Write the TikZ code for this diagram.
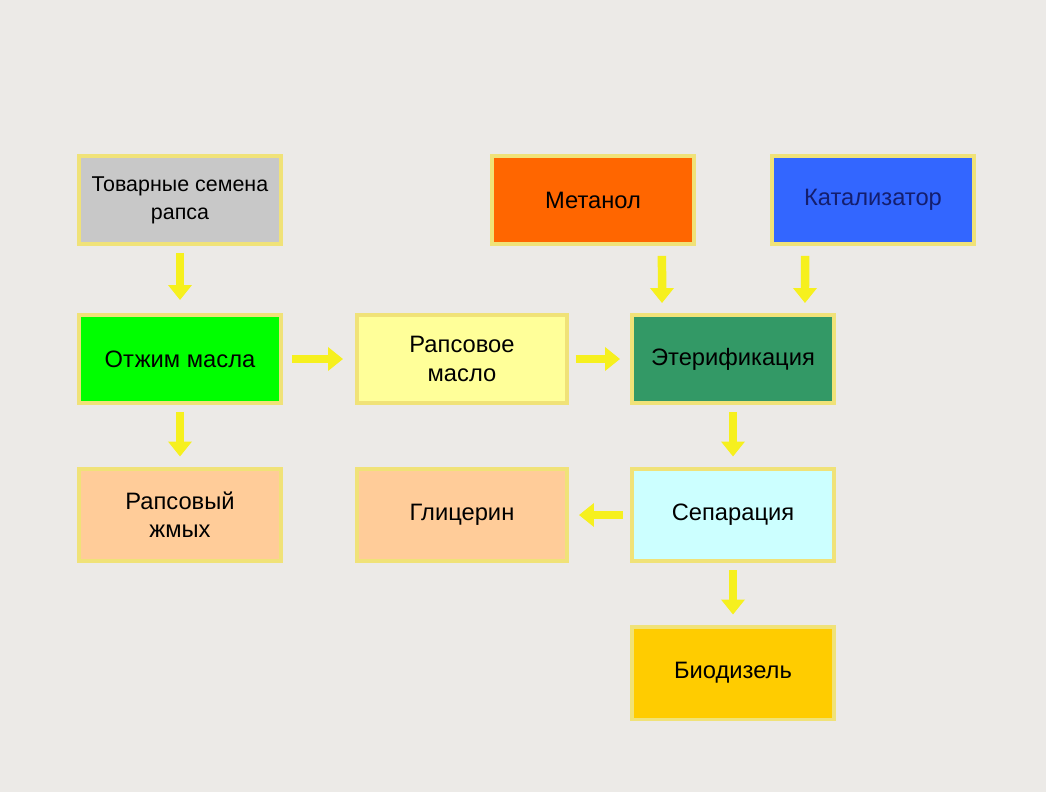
\documentclass[tikz,border=0pt]{standalone}
\usepackage{fontspec}
\setmainfont{Liberation Sans}
\usetikzlibrary{arrows.meta}
\definecolor{bg-gray}{RGB}{236,234,231}
\definecolor{box-edge}{RGB}{240,226,120}
\definecolor{arr-yellow}{RGB}{246,240,30}
\definecolor{seed-gray}{RGB}{200,200,200}
\definecolor{my-orange}{RGB}{255,102,0}
\definecolor{my-blue}{RGB}{51,102,255}
\definecolor{my-green}{RGB}{0,255,0}
\definecolor{oil-yellow}{RGB}{255,255,153}
\definecolor{sea-green}{RGB}{51,153,102}
\definecolor{my-peach}{RGB}{255,204,153}
\definecolor{my-cyan}{RGB}{204,255,255}
\definecolor{my-gold}{RGB}{255,204,0}
\begin{document}
\begin{tikzpicture}[x=0.02cm, y=-0.02cm,
    box/.style={draw=box-edge, line width=0.08cm, minimum width=4.04cm, minimum height=1.76cm,
      align=center, font=\fontsize{13.5}{16}\selectfont, inner sep=2pt},
    flow/.style={draw=arr-yellow, line width=0.17cm,
      -{Triangle[width=0.46cm,length=0.3cm,fill=arr-yellow]}}]
  \fill[bg-gray] (0,0) rectangle (1046,792);
  \useasboundingbox (0,0) rectangle (1046,792);
  % top row
  \node[box, fill=seed-gray, font=\fontsize{12.2}{16}\selectfont] (seeds) at (180,200) {Товарные семена\\рапса};
  \node[box, fill=my-orange] (methanol) at (593,200) {Метанол};
  \node[box, fill=my-blue, text={rgb,255:red,20;green,30;blue,110}] (catalyst) at (873,200) {Катализатор};
  % middle row
  \node[box, fill=my-green] (press) at (180,359) {Отжим масла};
  \node[box, fill=oil-yellow, minimum width=4.2cm] (oil) at (462,359) {Рапсовое\\масло};
  \node[box, fill=sea-green] (ester) at (733,359) {Этерификация};
  % bottom rows
  \node[box, fill=my-peach, minimum height=1.86cm] (cake) at (180,515) {Рапсовый\\жмых};
  \node[box, fill=my-peach, minimum width=4.2cm, minimum height=1.86cm] (glycerin) at (462,515) {Глицерин};
  \node[box, fill=my-cyan, minimum height=1.86cm] (separ) at (733,515) {Сепарация};
  \node[box, fill=my-gold, minimum height=1.86cm] (diesel) at (733,673) {Биодизель};
  % connectors
  \draw[flow, shorten <=0.14cm, shorten >=0.26cm] (seeds) -- (press);
  \draw[flow, shorten <=0.18cm, shorten >=0.24cm] (press) -- (oil);
  \draw[flow, shorten <=0.14cm, shorten >=0.2cm] (oil) -- (ester);
  \draw[flow, shorten <=0.2cm, shorten >=0.2cm] ([xshift=1.38cm]methanol.south) -- ([xshift=-1.42cm]ester.north);
  \draw[flow, shorten <=0.2cm, shorten >=0.2cm] ([xshift=-1.36cm]catalyst.south) -- ([xshift=1.44cm]ester.north);
  \draw[flow, shorten <=0.14cm, shorten >=0.2cm] (press) -- (cake);
  \draw[flow, shorten <=0.14cm, shorten >=0.2cm] (ester) -- (separ);
  \draw[flow, shorten <=0.14cm, shorten >=0.2cm] (separ) -- (glycerin);
  \draw[flow, shorten <=0.14cm, shorten >=0.2cm] (separ) -- (diesel);
\end{tikzpicture}
\end{document}
